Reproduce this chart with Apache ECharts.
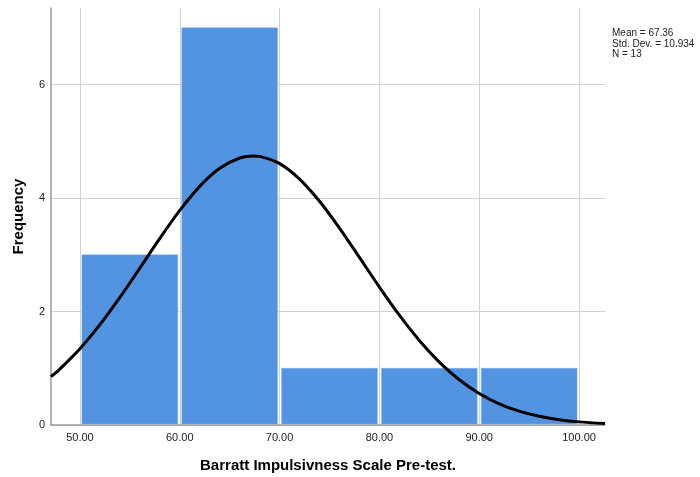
<!DOCTYPE html>
<html><head><meta charset="utf-8">
<script src="https://cdn.jsdelivr.net/npm/echarts@6/dist/echarts.min.js"></script>
<style>html,body{margin:0;padding:0;background:#fff}#c{width:700px;height:477px}</style>
</head><body><div id="c"></div>
<script>
// Histogram bins: [start, end, frequency]
var binStarts = [50, 60, 70, 80, 90];
var binEnds = [60, 70, 80, 90, 100];
var frequencies = [3, 7, 1, 1, 1];
// Normal curve (x, frequency)
var curveX = [47.1, 48, 50, 52, 54, 56, 58, 60, 62, 64, 66, 67.36, 68, 70, 72, 74, 76, 78, 80, 82, 84, 86, 88, 90, 92, 94, 96, 98, 100, 102.6];
var curveY = [0.852, 0.989, 1.345, 1.768, 2.248, 2.765, 3.288, 3.782, 4.206, 4.524, 4.706, 4.743, 4.735, 4.607, 4.335, 3.944, 3.471, 2.954, 2.431, 1.935, 1.490, 1.109, 0.798, 0.556, 0.374, 0.244, 0.154, 0.0935, 0.0551, 0.0263];
var xTicks = [50, 60, 70, 80, 90, 100];
var yTicks = [0, 2, 4, 6];
var statsLines = ['Mean = 67.36', 'Std. Dev. = 10.934', 'N = 13'];

var binData = binStarts.map(function(s, i){ return [s, binEnds[i], frequencies[i]]; });
var curveData = curveX.map(function(x, i){ return [x, curveY[i]]; });

var chart = echarts.init(document.getElementById('c'));
var font = 'Arial, "Liberation Sans", sans-serif';
chart.setOption({
  animation: false,
  grid: {left: 51, right: 95, top: 8, bottom: 52, outerBoundsMode: 'none', containLabel: false},
  xAxis: {
    type: 'value', min: 47.1, max: 102.6,
    name: 'Barratt Impulsivness Scale Pre-test.', nameLocation: 'middle', nameGap: 33,
    nameTextStyle: {fontFamily: font, fontSize: 15, fontWeight: 'bold', color: '#000'},
    axisLine: {show: true, lineStyle: {color: '#9a9a9a', width: 1.5}},
    axisTick: {show: false, customValues: xTicks},
    axisLabel: {customValues: xTicks, formatter: function(v){ return v.toFixed(2); },
      fontFamily: font, fontSize: 11, color: '#222', margin: 7},
    splitLine: {show: true, lineStyle: {color: '#d2d2d2', width: 1}}
  },
  yAxis: {
    type: 'value', min: 0, max: 7.35,
    name: 'Frequency', nameLocation: 'middle', nameGap: 25,
    nameTextStyle: {fontFamily: font, fontSize: 15, fontWeight: 'bold', color: '#000'},
    axisLine: {show: true, lineStyle: {color: '#9a9a9a', width: 1.5}},
    axisTick: {show: false, customValues: yTicks},
    axisLabel: {customValues: yTicks, fontFamily: font, fontSize: 11, color: '#222', margin: 6},
    splitLine: {show: true, lineStyle: {color: '#d2d2d2', width: 1}}
  },
  graphic: [{
    type: 'text', left: 612, top: 28,
    style: {text: statsLines.join('\n'), fontFamily: font, fontSize: 10, lineHeight: 10.5, fill: '#222'}
  }],
  series: [{
    type: 'custom',
    data: binData,
    renderItem: function(params, api){
      var p0 = api.coord([api.value(0), api.value(2)]);
      var p1 = api.coord([api.value(1), 0]);
      return {
        type: 'rect',
        shape: {x: p0[0] + 2, y: p0[1], width: p1[0] - p0[0] - 4, height: p1[1] - p0[1] - 1},
        style: {fill: '#5294e2', stroke: '#7fb0ea', lineWidth: 0.5}
      };
    },
    encode: {x: [0, 1], y: 2},
    z: 2
  }, {
    type: 'line',
    data: curveData,
    smooth: 0.3,
    showSymbol: false,
    lineStyle: {color: '#000', width: 3},
    z: 3
  }]
});
</script></body></html>
